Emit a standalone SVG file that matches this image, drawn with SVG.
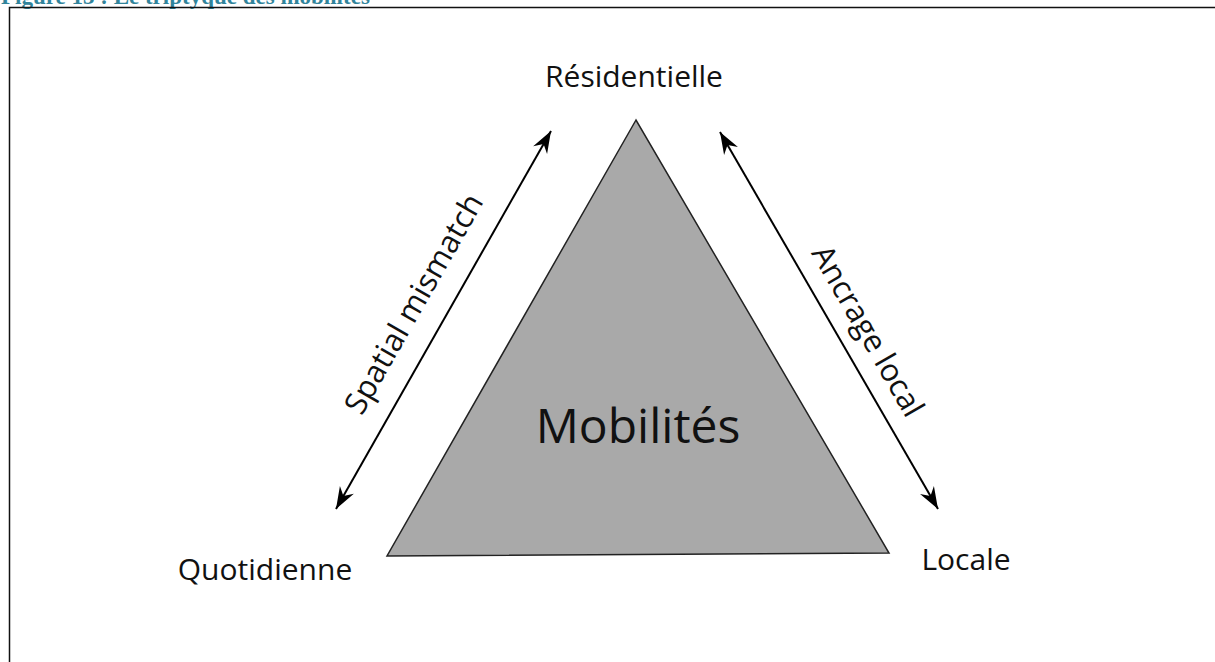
<svg xmlns="http://www.w3.org/2000/svg" width="1215" height="662" viewBox="0 0 1215 662">
<style>
.lbl{font-family:"Open Sans","Noto Sans","Liberation Sans",sans-serif;fill:#111;}
.arrow{stroke:#000;stroke-width:2;fill:none;marker-start:url(#ah);marker-end:url(#ah);}
</style>
<defs>
<marker id="ah" viewBox="-24 -10 26 20" refX="0" refY="0" markerWidth="26" markerHeight="20" markerUnits="userSpaceOnUse" orient="auto-start-reverse">
<path d="M0,0 L-22,-8 L-15,0 L-22,8 Z" fill="#000"/>
</marker>
</defs>
<rect x="0" y="0" width="1215" height="662" fill="#fff"/>
<text x="1" y="4" style="font-family:'Liberation Serif',serif;font-weight:bold;font-size:23px;fill:#31849B">Figure 13 : Le triptyque des mobilités</text>
<g id="frame" stroke="#111" stroke-width="1.5" fill="none">
<path d="M9.5,662 L9.5,7.5 L1215,7.5"/>
</g>
<g id="triangle">
<polygon points="636,120 387,556 889,553" fill="#a9a9a9" stroke="#222" stroke-width="1.5"/>
<text class="lbl" x="638" y="443" font-size="48" text-anchor="middle">Mobilités</text>
</g>
<g id="residentielle"><text class="lbl" x="634" y="87" font-size="30" text-anchor="middle">Résidentielle</text></g>
<g id="quotidienne"><text class="lbl" x="265" y="580" font-size="30" text-anchor="middle">Quotidienne</text></g>
<g id="locale"><text class="lbl" x="966" y="570" font-size="30" text-anchor="middle">Locale</text></g>
<g id="connectors">
<line class="arrow" x1="336" y1="509" x2="551" y2="131"/>
<line class="arrow" x1="720" y1="132" x2="938" y2="509"/>
<text class="lbl" font-size="31" text-anchor="middle" transform="translate(423,309) rotate(-60.3)">Spatial mismatch</text>
<text class="lbl" font-size="31" text-anchor="middle" transform="translate(858.7,336.2) rotate(60)">Ancrage local</text>
</g>
</svg>
